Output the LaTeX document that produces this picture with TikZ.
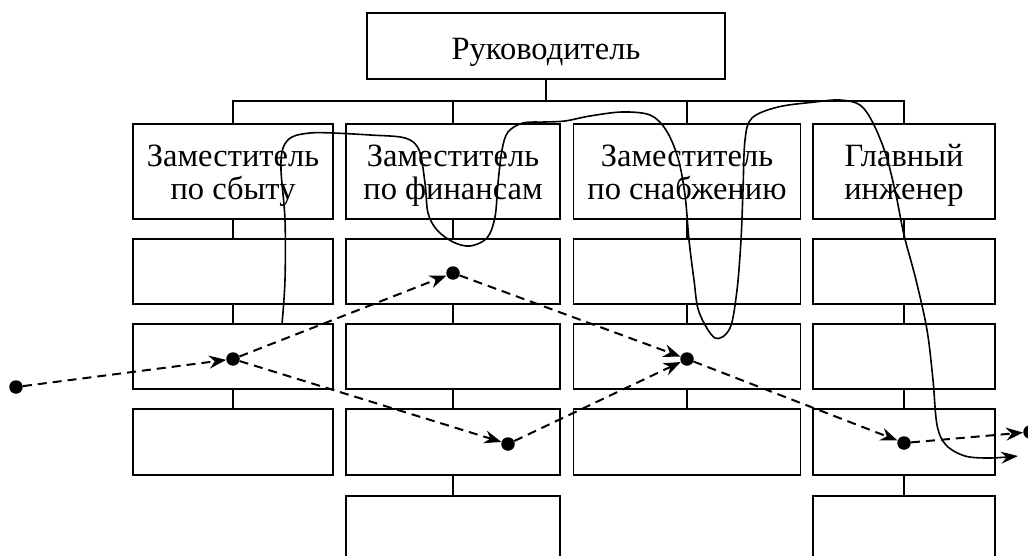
\documentclass[tikz,border=0pt]{standalone}
\usepackage{fontspec}
\setmainfont{Liberation Serif}
\usetikzlibrary{arrows.meta}
\begin{document}
\begin{tikzpicture}[x=1pt,y=-1pt,
  box/.style={draw, line width=1.7pt, inner sep=0pt},
  lbl/.style={font=\fontsize{32.5}{34}\selectfont, inner sep=0pt, anchor=base},
  conn/.style={line width=1.7pt},
  dot/.style={circle, fill, inner sep=0pt, minimum size=13.5pt},
  flow/.style={line width=2pt, dash pattern=on 9pt off 6pt, -{Stealth[length=17pt,width=13pt]}},
  path/.style={line width=1.6pt, -{Stealth[length=17pt,width=12pt]}}]
\useasboundingbox (0,0) rectangle (1028,556);
% top box
\node[box, minimum width=358pt, minimum height=66pt] (top) at (546,46) {};
\node[lbl] (ttop) at (546,60) {Руководитель};
% column 1
\node[box, minimum width=200pt, minimum height=95pt] (b11) at (233,171.5) {};
\node[box, minimum width=200pt, minimum height=65pt] (b12) at (233,271.5) {};
\node[box, minimum width=200pt, minimum height=65pt] (b13) at (233,356.5) {};
\node[box, minimum width=200pt, minimum height=66pt] (b14) at (233,442) {};
% column 2
\node[box, minimum width=214pt, minimum height=95pt] (b21) at (453,171.5) {};
\node[box, minimum width=214pt, minimum height=65pt] (b22) at (453,271.5) {};
\node[box, minimum width=214pt, minimum height=65pt] (b23) at (453,356.5) {};
\node[box, minimum width=214pt, minimum height=66pt] (b24) at (453,442) {};
\node[box, minimum width=214pt, minimum height=104pt] (b25) at (453,548) {};
% column 3
\node[box, minimum width=227pt, minimum height=95pt] (b31) at (687,171.5) {};
\node[box, minimum width=227pt, minimum height=65pt] (b32) at (687,271.5) {};
\node[box, minimum width=227pt, minimum height=65pt] (b33) at (687,356.5) {};
\node[box, minimum width=227pt, minimum height=66pt] (b34) at (687,442) {};
% column 4
\node[box, minimum width=182pt, minimum height=95pt] (b41) at (904,171.5) {};
\node[box, minimum width=182pt, minimum height=65pt] (b42) at (904,271.5) {};
\node[box, minimum width=182pt, minimum height=65pt] (b43) at (904,356.5) {};
\node[box, minimum width=182pt, minimum height=66pt] (b44) at (904,442) {};
\node[box, minimum width=182pt, minimum height=104pt] (b45) at (904,548) {};
% header texts
\node[lbl] (t11) at (233,167) {Заместитель};
\node[lbl] (t12) at (233,200) {по сбыту};
\node[lbl] (t21) at (453,167) {Заместитель};
\node[lbl] (t22) at (453,200) {по финансам};
\node[lbl] (t31) at (687,167) {Заместитель};
\node[lbl] (t32) at (687,200) {по снабжению};
\node[lbl] (t41) at (904,167) {Главный};
\node[lbl] (t42) at (904,200) {инженер};
% bus
\coordinate (bus) at (546,101);
\draw[conn] (top.south) -- (bus);
\draw[conn] (b11.north) -- (b11.north |- bus) -- (b41.north |- bus) -- (b41.north);
\draw[conn] (b21.north) -- (b21.north |- bus);
\draw[conn] (b31.north) -- (b31.north |- bus);
% column connectors
\draw[conn] (b11.south) -- (b12.north);
\draw[conn] (b12.south) -- (b13.north);
\draw[conn] (b13.south) -- (b14.north);
\draw[conn] (b21.south) -- (b22.north);
\draw[conn] (b22.south) -- (b23.north);
\draw[conn] (b23.south) -- (b24.north);
\draw[conn] (b24.south) -- (b25.north);
\draw[conn] (b31.south) -- (b32.north);
\draw[conn] (b32.south) -- (b33.north);
\draw[conn] (b33.south) -- (b34.north);
\draw[conn] (b41.south) -- (b42.north);
\draw[conn] (b42.south) -- (b43.north);
\draw[conn] (b43.south) -- (b44.north);
\draw[conn] (b44.south) -- (b45.north);
% hand-drawn path
\draw[path] plot[smooth, tension=0.55] coordinates {
 (282,324) (285,280) (285,220) (281,170) (283,148) (292,137) (310,133) (333,133)
 (370,135) (405,138) (419,150) (425,183) (428,213) (437,230) (453,242) (470,246)
 (487,238) (495,217) (498,183) (502,150) (508,132) (523,123) (545,122) (565,121)
 (590,116) (622,112) (650,115) (666,130) (678,158) (685,195) (689,240) (694,280)
 (699,312) (715,338) (730,328) (737,290) (741,240) (743,190) (745,140) (752,118)
 (778,107) (815,102) (840,100) (860,105) (873,123) (886,155) (896,195) (904,235)
 (916,280) (927,330) (933,380) (937,425) (946,445) (965,456) (990,458) (1018,456)};
% flow dots
\node[dot] (p0) at (16,387) {};
\node[dot] (p1) at (233,359) {};
\node[dot] (p2) at (453,273) {};
\node[dot] (p3) at (508,444) {};
\node[dot] (p4) at (687,359) {};
\node[dot] (p5) at (904,443) {};
\node[dot] (p6) at (1030,432) {};
\draw[flow] (p0) -- (p1);
\draw[flow] (p1) -- (p2);
\draw[flow] (p1) -- (p3);
\draw[flow] (p2) -- (p4);
\draw[flow] (p3) -- (p4);
\draw[flow] (p4) -- (p5);
\draw[flow] (p5) -- (p6);
\end{tikzpicture}
\end{document}
